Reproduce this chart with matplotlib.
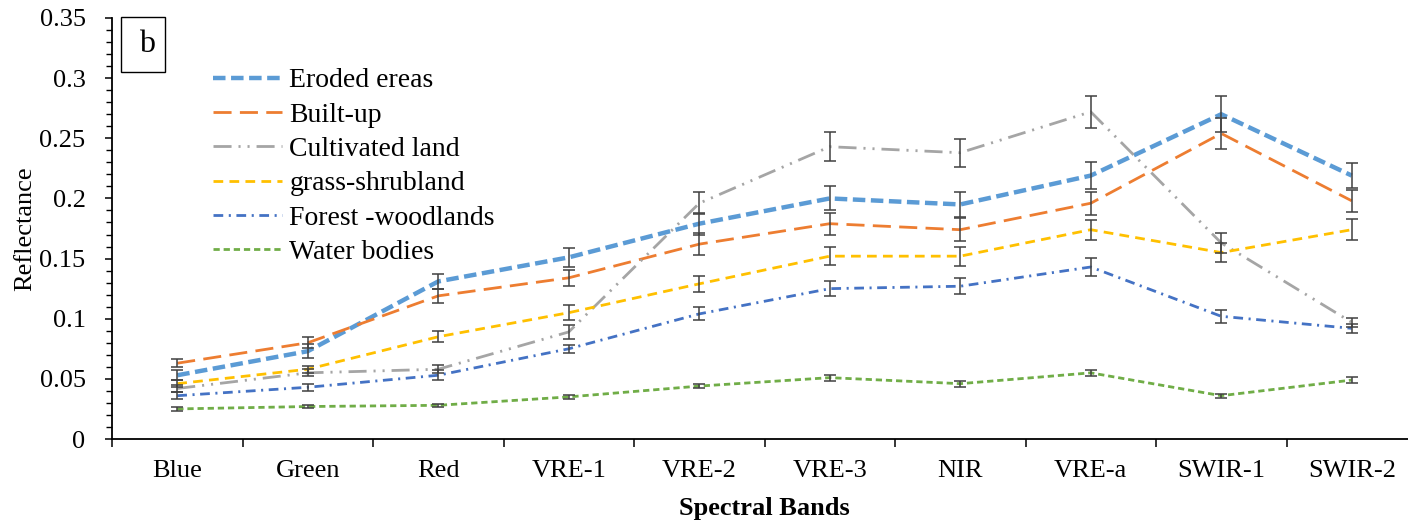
import numpy as np
import matplotlib
matplotlib.use("Agg")
from matplotlib import pyplot as plt
from matplotlib.patches import Rectangle
from matplotlib.ticker import MultipleLocator, FuncFormatter, FixedLocator

plt.rcParams['font.family'] = ['Liberation Serif', 'DejaVu Serif']
plt.rcParams['lines.scale_dashes'] = False

bands = ['Blue', 'Green', 'Red', 'VRE-1', 'VRE-2', 'VRE-3', 'NIR', 'VRE-a', 'SWIR-1', 'SWIR-2']

# mean reflectance per class
eroded = [0.053, 0.073, 0.131, 0.151, 0.179, 0.200, 0.195, 0.219, 0.270, 0.219]
builtup = [0.063, 0.080, 0.119, 0.134, 0.162, 0.179, 0.174, 0.196, 0.254, 0.198]
cultivated = [0.042, 0.055, 0.058, 0.089, 0.196, 0.243, 0.238, 0.272, 0.163, 0.097]
grass = [0.046, 0.058, 0.085, 0.105, 0.129, 0.152, 0.152, 0.174, 0.155, 0.174]
forest = [0.036, 0.043, 0.053, 0.075, 0.104, 0.125, 0.127, 0.143, 0.102, 0.092]
water = [0.025, 0.027, 0.028, 0.035, 0.044, 0.051, 0.046, 0.055, 0.036, 0.049]

# error bar half-lengths
eroded_err = [0.004, 0.006, 0.0065, 0.008, 0.009, 0.010, 0.0105, 0.0115, 0.015, 0.0105]
builtup_err = [0.0035, 0.0045, 0.006, 0.0067, 0.009, 0.009, 0.0097, 0.0097, 0.0125, 0.0093]
cultivated_err = [0.003, 0.003, 0.0035, 0.006, 0.009, 0.012, 0.0118, 0.0133, 0.0083, 0.0037]
grass_err = [0.003, 0.003, 0.0046, 0.006, 0.0066, 0.0073, 0.008, 0.0083, 0.008, 0.0085]
forest_err = [0.003, 0.003, 0.004, 0.0033, 0.0054, 0.006, 0.0065, 0.0073, 0.0054, 0.0035]
water_err = [0.0015, 0.0015, 0.0015, 0.0015, 0.002, 0.0026, 0.0025, 0.0025, 0.0017, 0.0025]

labels = ['Eroded ereas', 'Built-up', 'Cultivated land', 'grass-shrubland',
          'Forest -woodlands', 'Water bodies']
colors = ['#5B9BD5', '#ED7D31', '#A5A5A5', '#FFC000', '#4472C4', '#70AD47']
dashes = [(9, 4), (13, 6), (13, 5, 1.5, 5, 1.5, 5), (7, 4.5), (7, 4, 1.5, 4), (4.5, 2.8)]
widths = [3.2, 2.0, 2.0, 2.0, 2.0, 2.0]

series = [eroded, builtup, cultivated, grass, forest, water]
errs = [eroded_err, builtup_err, cultivated_err, grass_err, forest_err, water_err]

W, H = 1408, 526
fig = plt.figure(figsize=(W / 100, H / 100), dpi=100)
ax = fig.add_axes([112 / W, 1 - 439 / H, 1305 / W, 421 / H])

x = np.arange(len(bands))
handles = []
for y, e, lab, c, d, lw in zip(series, errs, labels, colors, dashes, widths):
    ln, = ax.plot(x, y, color=c, lw=lw, dashes=d, label=lab, zorder=2)
    handles.append(ln)
    ax.errorbar(x, y, yerr=e, fmt='none', ecolor='#404040', elinewidth=1.1,
                capsize=4.5, capthick=1.1, zorder=3)

ax.set_xlim(-0.5, 9.5)
ax.set_ylim(0, 0.35)
ax.yaxis.set_major_locator(MultipleLocator(0.05))
ax.yaxis.set_minor_locator(MultipleLocator(0.01))
ax.yaxis.set_major_formatter(FuncFormatter(lambda v, p: f'{v:g}'))

ax.xaxis.set_major_locator(FixedLocator(np.arange(-0.5, 10, 1.0)))
ax.xaxis.set_major_formatter(FuncFormatter(lambda v, p: ''))
ax.xaxis.set_minor_locator(FixedLocator(x))
ax.set_xticks(x, bands, minor=True)

for s in ['top', 'right']:
    ax.spines[s].set_visible(False)
for s in ['left', 'bottom']:
    ax.spines[s].set_linewidth(1.3)

ax.tick_params(axis='y', which='major', length=5, width=1.1, labelsize=19, pad=14)
ax.tick_params(axis='y', which='minor', length=4, width=1.0)
ax.tick_params(axis='x', which='major', length=6, width=1.1)
ax.tick_params(axis='x', which='minor', length=0, labelsize=19, pad=15)

ax.set_xlabel('Spectral Bands', fontsize=19, fontweight='bold', labelpad=11)
ax.set_ylabel('Reflectance', fontsize=19, labelpad=2)

ax.legend(handles=handles, loc='upper left', bbox_to_anchor=(213 / W, 1 - 68 / H),
          bbox_transform=fig.transFigure, frameon=False, fontsize=20,
          handlelength=2.5, handletextpad=0.25, labelspacing=0.32,
          borderpad=0, borderaxespad=0)

fig.add_artist(Rectangle((121 / W, 1 - 72 / H), 44 / W, 55 / H, transform=fig.transFigure,
                         fill=False, ec='black', lw=1.0))
fig.text(147 / W, 1 - 45 / H, 'b', fontsize=23, ha='center', va='center')

fig.savefig('out.png', dpi=100)
